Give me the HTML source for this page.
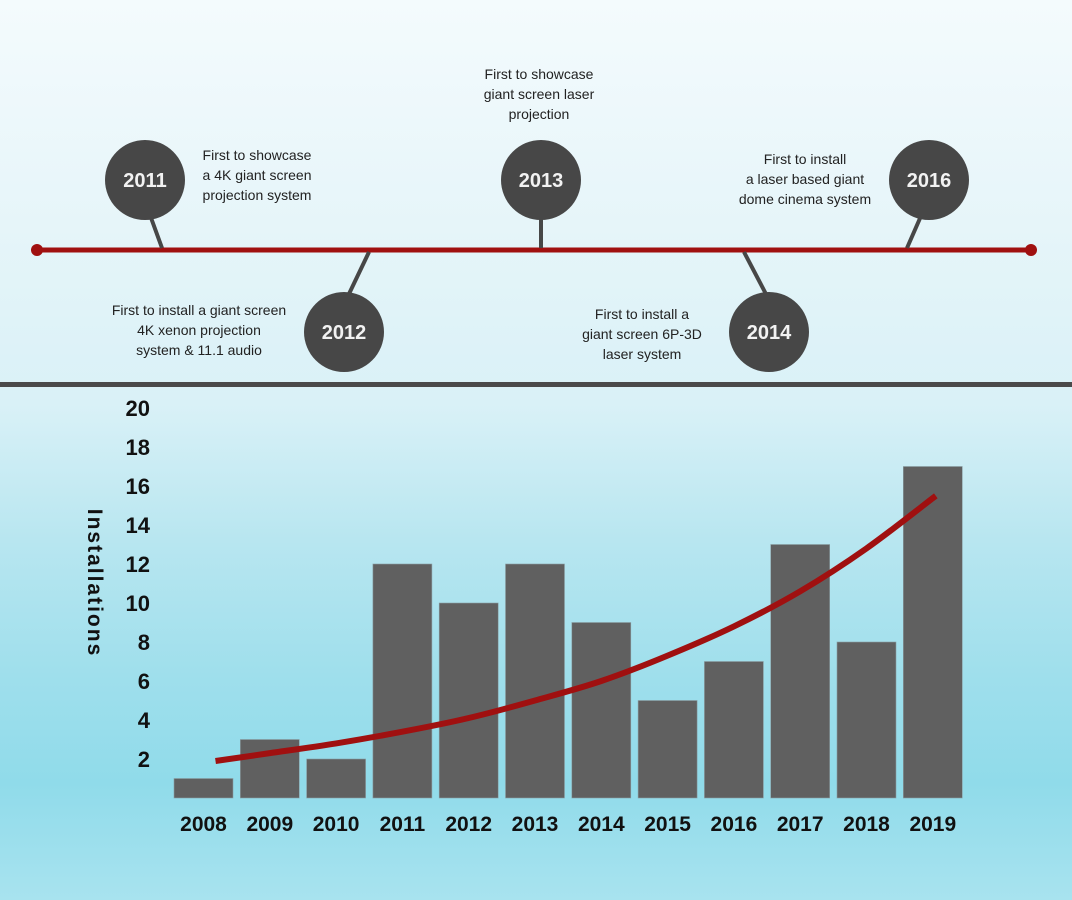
<!DOCTYPE html>
<html><head><meta charset="utf-8">
<style>
html,body{margin:0;padding:0}
body{width:1072px;height:900px;overflow:hidden;font-family:"Liberation Sans",sans-serif;
background:linear-gradient(180deg,#f4fbfd 0%,#e6f5f9 25%,#d9f1f7 45%,#b8e6f0 60%,#9fdfec 75%,#90dbea 87%,#a8e3ef 100%);}
svg{display:block}
</style></head>
<body>
<svg id="chart" width="1072" height="900">
  <g>
    <line x1="37" y1="250" x2="1031" y2="250" stroke="#a01010" stroke-width="5"/>
    <circle cx="37" cy="250" r="6" fill="#a01010"/>
    <circle cx="1031" cy="250" r="6" fill="#a01010"/>
    <g stroke="#474747" stroke-width="4">
      <line x1="150" y1="215" x2="162" y2="248"/>
      <line x1="369" y1="252" x2="348" y2="296"/>
      <line x1="541" y1="218" x2="541" y2="248"/>
      <line x1="744" y1="252" x2="767" y2="296"/>
      <line x1="907" y1="248" x2="921" y2="216"/>
    </g>
    <g fill="#474747">
      <circle cx="145" cy="180" r="40"/>
      <circle cx="344" cy="332" r="40"/>
      <circle cx="541" cy="180" r="40"/>
      <circle cx="769" cy="332" r="40"/>
      <circle cx="929" cy="180" r="40"/>
    </g>
    <g fill="#f2f2f2" font-weight="bold" font-size="20" text-anchor="middle">
      <text x="145" y="187">2011</text>
      <text x="344" y="339">2012</text>
      <text x="541" y="187">2013</text>
      <text x="769" y="339">2014</text>
      <text x="929" y="187">2016</text>
    </g>
    <g fill="#222" font-size="14" text-anchor="middle">
      <text x="257" y="160"><tspan x="257">First to showcase</tspan><tspan x="257" dy="20">a 4K giant screen</tspan><tspan x="257" dy="20">projection system</tspan></text>
      <text x="199" y="315"><tspan x="199">First to install a giant screen</tspan><tspan x="199" dy="20">4K xenon projection</tspan><tspan x="199" dy="20">system &amp; 11.1 audio</tspan></text>
      <text x="539" y="79"><tspan x="539">First to showcase</tspan><tspan x="539" dy="20">giant screen laser</tspan><tspan x="539" dy="20">projection</tspan></text>
      <text x="642" y="319"><tspan x="642">First to install a</tspan><tspan x="642" dy="20">giant screen 6P-3D</tspan><tspan x="642" dy="20">laser system</tspan></text>
      <text x="805" y="164"><tspan x="805">First to install</tspan><tspan x="805" dy="20">a laser based giant</tspan><tspan x="805" dy="20">dome cinema system</tspan></text>
    </g>
  </g>
  <rect x="0" y="382" width="1072" height="5" fill="#4a4a4a"/>
  <text transform="translate(88,583) rotate(90)" text-anchor="middle" font-size="21" font-weight="bold" letter-spacing="2" fill="#111">Installations</text>
  <g id="yticks"></g>
  <g id="bars"></g>
  <g id="xlabels"></g>
  <g id="trend"></g>
</svg>
<script>
const years = ["2008","2009","2010","2011","2012","2013","2014","2015","2016","2017","2018","2019"];
const installs = [1,3,2,12,10,12,9,5,7,13,8,17];
const trendValues = [1.9,2.3,2.8,3.4,4.1,5.0,6.0,7.3,8.8,10.6,12.8,15.5];
const yTicks = [2,4,6,8,10,12,14,16,18,20];

const NS = "http://www.w3.org/2000/svg";
const baseY = 798, unit = 19.5, x0 = 174, pitch = 66.3, bw = 59;
const yScale = v => baseY - v * unit;
const xLeft = i => x0 + i * pitch;
const xCenter = i => xLeft(i) + bw / 2;
function mk(tag, attrs, parent){const e=document.createElementNS(NS,tag);for(const k in attrs)e.setAttribute(k,attrs[k]);parent.appendChild(e);return e;}

const yt = document.getElementById('yticks');
yTicks.forEach(t=>{
  const e = mk('text',{x:150,y:yScale(t)+8,'text-anchor':'end','font-size':22,'font-weight':'bold',fill:'#111'},yt);
  
  
  e.textContent = t;
});
const bg = document.getElementById('bars');
const xl = document.getElementById('xlabels');
years.forEach((y,i)=>{
  const r = mk('rect',{x:xLeft(i),y:yScale(installs[i]),width:bw,height:installs[i]*unit,fill:'#606060',stroke:'#8a9ea3','stroke-width':0.6},bg);
  
  
  const t = mk('text',{x:xCenter(i),y:831,'text-anchor':'middle','font-size':21,'font-weight':'bold',fill:'#111'},xl);
  
  
  t.textContent = y;
});
const pts = trendValues.map((v,i)=>{
  let x = xCenter(i);
  if(i===0) x += 12;
  if(i===trendValues.length-1) x += 3;
  return [x, yScale(v)];
});
let d = 'M' + pts[0][0].toFixed(1) + ' ' + pts[0][1].toFixed(1);
for(let i=0;i<pts.length-1;i++){
  const p0 = pts[Math.max(0,i-1)], p1 = pts[i], p2 = pts[i+1], p3 = pts[Math.min(pts.length-1,i+2)];
  const c1 = [p1[0]+(p2[0]-p0[0])/6, p1[1]+(p2[1]-p0[1])/6];
  const c2 = [p2[0]-(p3[0]-p1[0])/6, p2[1]-(p3[1]-p1[1])/6];
  d += ' C' + c1[0].toFixed(1)+' '+c1[1].toFixed(1)+' '+c2[0].toFixed(1)+' '+c2[1].toFixed(1)+' '+p2[0].toFixed(1)+' '+p2[1].toFixed(1);
}
const p = mk('path',{d:d,fill:'none',stroke:'#a01010','stroke-width':6,'stroke-linejoin':'round'},document.getElementById('trend'));


</script>
</body></html>
